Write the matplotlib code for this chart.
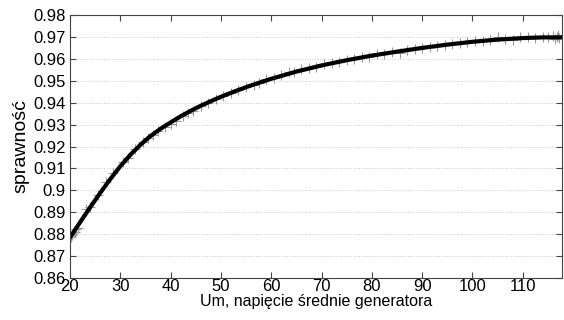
import matplotlib
matplotlib.use("Agg")
import matplotlib.pyplot as plt

# fitted curve
curve_x = [20, 22, 24, 26, 28, 30, 32, 34, 36, 38, 40, 42, 44, 46, 48, 50, 53, 56, 60,
           65, 70, 75, 80, 85, 90, 95, 100, 105, 110, 114, 117.8]
curve_y = [0.8785, 0.8854, 0.8922, 0.8988, 0.9051, 0.9110, 0.9162, 0.9208, 0.9248,
           0.9281, 0.9310, 0.9338, 0.9363, 0.9386, 0.9407, 0.9427, 0.9454, 0.9479,
           0.9509, 0.9542, 0.9570, 0.9594, 0.9615, 0.9633, 0.9650, 0.9665, 0.9678,
           0.9688, 0.9695, 0.9698, 0.9698]

# measured points
meas_x = [20.2, 20.4, 20.5, 20.8, 21.0, 21.3, 21.6, 23.2, 24.0, 25.5, 27.2, 28.5, 30.5,
          31.5, 33.0, 34.5, 35.5, 36.5, 37.5, 38.8, 40.0, 41.0, 42.5, 43.5, 44.5, 46.0,
          47.5, 49.0, 50.5, 52.0, 53.5, 55.0, 56.5, 57.5, 59.0, 60.5, 62.0, 63.5, 64.5,
          66.0, 67.5, 69.0, 70.5, 72.0, 73.5, 75.0, 76.5, 78.0, 79.5, 81.0, 82.5, 84.0,
          85.5, 87.0, 88.5, 90.0, 91.5, 93.0, 94.5, 96.0, 97.5, 99.0, 100.5, 102.0,
          103.5, 105.0, 106.5, 108.0, 109.5, 111.0, 112.5, 114.0, 115.0, 116.0, 116.5,
          116.8, 117.0, 117.2]
meas_y = [0.8788, 0.8795, 0.8800, 0.8812, 0.8808, 0.8822, 0.8830, 0.8915, 0.8925, 0.8978,
          0.9040, 0.9080, 0.9128, 0.9148, 0.9190, 0.9222, 0.9238, 0.9255, 0.9272, 0.9290,
          0.9305, 0.9318, 0.9340, 0.9352, 0.9362, 0.9385, 0.9400, 0.9418, 0.9432, 0.9445,
          0.9458, 0.9470, 0.9482, 0.9490, 0.9508, 0.9515, 0.9525, 0.9540, 0.9542, 0.9552,
          0.9560, 0.9565, 0.9575, 0.9580, 0.9586, 0.9595, 0.9598, 0.9610, 0.9608, 0.9620,
          0.9622, 0.9630, 0.9628, 0.9642, 0.9645, 0.9650, 0.9655, 0.9660, 0.9665, 0.9668,
          0.9672, 0.9678, 0.9680, 0.9682, 0.9688, 0.9702, 0.9690, 0.9685, 0.9700, 0.9698,
          0.9695, 0.9702, 0.9698, 0.9705, 0.9690, 0.9700, 0.9710, 0.9695]

x_ticks = [20, 30, 40, 50, 60, 70, 80, 90, 100, 110]
y_ticks = [0.86, 0.87, 0.88, 0.89, 0.9, 0.91, 0.92, 0.93, 0.94, 0.95, 0.96, 0.97, 0.98]
y_tick_labels = ['0.86', '0.87', '0.88', '0.89', '0.9', '0.91', '0.92', '0.93', '0.94',
                 '0.95', '0.96', '0.97', '0.98']

plt.rcParams['font.family'] = ['Liberation Sans', 'DejaVu Sans']

fig = plt.figure(figsize=(5.64, 3.2), dpi=100)
ax = fig.add_axes([0.124, 0.131, 0.8725, 0.822])

ax.plot(meas_x, meas_y, '+', color='#999999', markersize=7, markeredgewidth=0.8)
ax.plot(curve_x, curve_y, '-', color='black', linewidth=3, solid_joinstyle='round')

ax.set_xlim(20, 117.8)
ax.set_ylim(0.86, 0.98)
ax.set_xticks(x_ticks)
ax.set_yticks(y_ticks)
ax.set_yticklabels(y_tick_labels)
ax.tick_params(direction='in', top=True, right=True, length=4, labelsize=12,
               color='#444444', pad=3)
ax.tick_params(axis='x', pad=1)
ax.yaxis.grid(True, linestyle=':', color='#c8c8c8', linewidth=0.7)
for s in ax.spines.values():
    s.set_color('#444444')
    s.set_linewidth(0.8)

ax.set_xlabel('Um, napięcie średnie generatora', fontsize=11.5, labelpad=0)
ax.set_ylabel('sprawność', fontsize=14, labelpad=3)

fig.savefig('out.png', dpi=100)
